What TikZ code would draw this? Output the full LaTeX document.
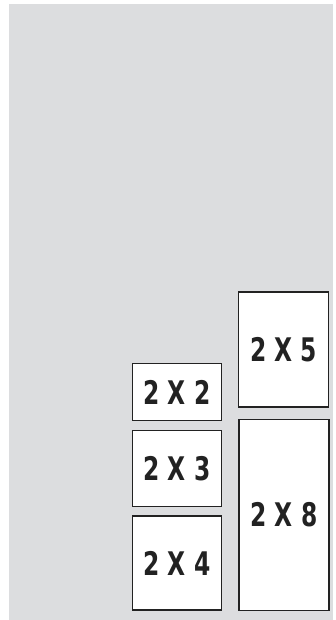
\documentclass[tikz,border=0pt]{standalone}
\usepackage{fontspec}
\usepackage{graphicx}
\newfontfamily\condfont{DejaVu Sans}
\newcommand{\sizelbl}[1]{\scalebox{0.72}[1]{#1}}
\definecolor{bggray}{HTML}{DCDDDF}
\definecolor{edge}{HTML}{222222}
\tikzset{
  sizebox/.style={draw=edge, line width=1.5pt, fill=white, inner sep=0pt,
    font=\condfont\bfseries\fontsize{32.5}{32.5}\selectfont, text=edge},
}
\begin{document}
\begin{tikzpicture}[x=1pt,y=-1pt]
\useasboundingbox (0,0) rectangle (335,620);
\fill[bggray] (9,4) rectangle (333,620);
\node[sizebox, minimum width=89pt, minimum height=57pt] (b22) at (177,392) {\sizelbl{2 X 2}};
\node[sizebox, minimum width=89pt, minimum height=76pt] (b23) at (177,468.5) {\sizelbl{2 X 3}};
\node[sizebox, minimum width=89pt, minimum height=94pt] (b24) at (177,563) {\sizelbl{2 X 4}};
\node[sizebox, minimum width=90pt, minimum height=115pt] (b25) at (283.5,349.5) {\sizelbl{2 X 5}};
\node[sizebox, minimum width=90pt, minimum height=191pt] (b28) at (284,515) {\sizelbl{2 X 8}};
\end{tikzpicture}
\end{document}
